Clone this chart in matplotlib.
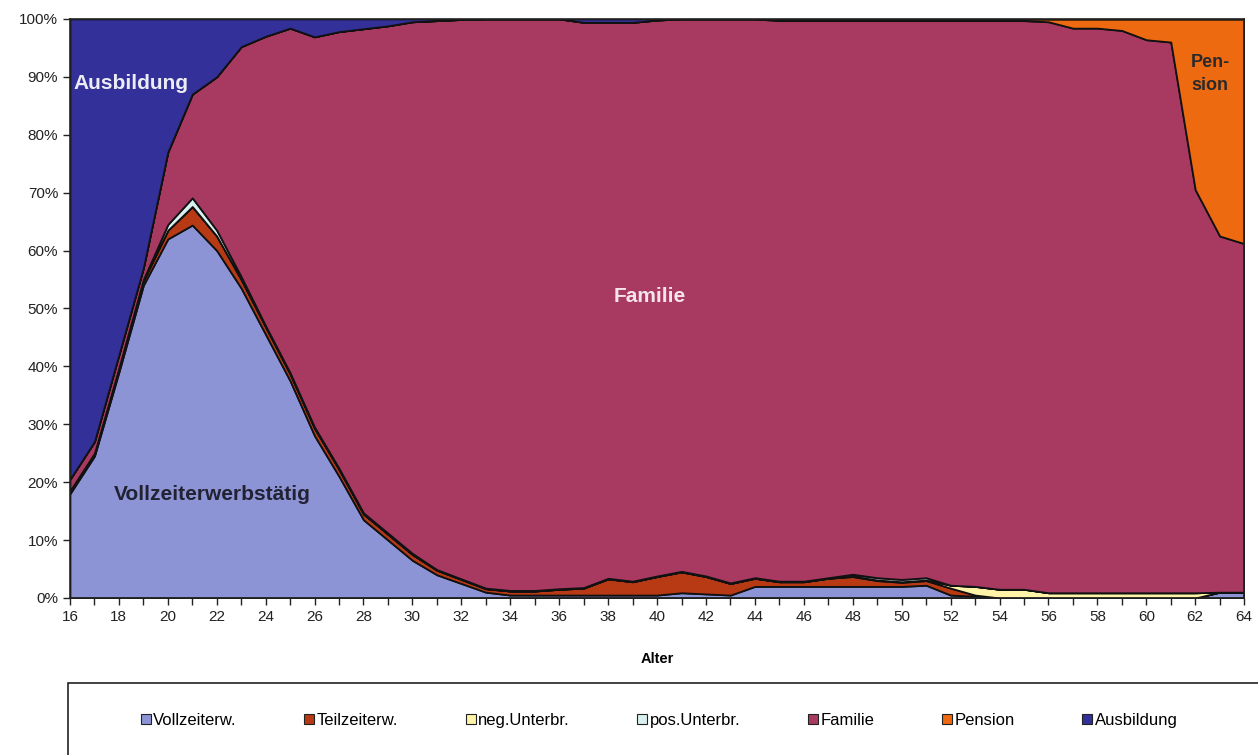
import matplotlib
matplotlib.use("Agg")
import matplotlib.pyplot as plt
from matplotlib.patches import Patch, Rectangle
from matplotlib.ticker import MultipleLocator, FuncFormatter

plt.rcParams['font.family'] = ['Liberation Sans', 'DejaVu Sans']

# Alter 16..64, Anteile in Prozent
ages = list(range(16, 65))

vollzeit = [18, 24.5, 39, 54, 62, 64.4, 60, 53.5, 45.5, 37.5,
            28, 21, 13.5, 10, 6.5, 4, 2.5, 1, 0.5, 0.5,
            0.5, 0.5, 0.5, 0.5, 0.5, 0.9, 0.7, 0.5, 2, 2,
            2, 2, 2, 2, 2, 2.2, 0.5, 0.3, 0, 0,
            0, 0, 0, 0, 0, 0, 0, 1, 1]
teilzeit = [0.3, 0.3, 0.5, 0.8, 1.5, 3.2, 2.5, 1.5, 1.3, 1.2,
            1.3, 1.2, 1.0, 1.0, 1.0, 0.8, 0.7, 0.6, 0.7, 0.7,
            1.0, 1.2, 2.8, 2.3, 3.2, 3.6, 3.0, 2.0, 1.4, 0.8,
            0.8, 1.4, 1.7, 1.0, 0.7, 0.8, 1.2, 0.2, 0, 0,
            0, 0, 0, 0, 0, 0, 0, 0, 0]
neg_unterbr = [0, 0, 0, 0, 0, 0, 0, 0, 0, 0,
               0, 0, 0, 0, 0, 0, 0, 0, 0, 0,
               0, 0, 0, 0, 0, 0, 0, 0, 0, 0,
               0, 0, 0.1, 0.1, 0.1, 0.1, 0.5, 1.5, 1.5, 1.5,
               0.9, 0.9, 0.9, 0.9, 0.9, 0.9, 0.9, 0, 0]
pos_unterbr = [0.2, 0.2, 0.2, 0.2, 1.0, 1.5, 1.0, 0.5, 0.2, 0.2,
               0.2, 0.2, 0.2, 0.2, 0.2, 0.1, 0.1, 0.1, 0.1, 0.1,
               0.1, 0.1, 0.1, 0.1, 0.1, 0.1, 0.1, 0.1, 0.1, 0.1,
               0.1, 0.1, 0.3, 0.4, 0.4, 0.4, 0, 0, 0, 0,
               0, 0, 0, 0, 0, 0, 0, 0, 0]
familie = [2.0, 2.0, 2.3, 2.0, 12.5, 17.9, 26.5, 39.7, 50.0, 59.5,
           67.4, 75.4, 83.6, 87.6, 91.8, 94.8, 96.6, 98.3, 98.7, 98.7,
           98.4, 97.6, 96.0, 96.5, 96.0, 95.4, 96.2, 97.4, 96.5, 96.8,
           96.8, 96.2, 95.6, 96.2, 96.5, 96.2, 97.5, 97.7, 98.2, 98.2,
           98.6, 97.5, 97.5, 97.1, 95.5, 95.1, 69.6, 61.5, 60.2]
pension = [0, 0, 0, 0, 0, 0, 0, 0, 0, 0,
           0, 0, 0, 0, 0, 0, 0, 0, 0, 0,
           0, 0, 0, 0, 0, 0, 0, 0, 0, 0.3,
           0.3, 0.3, 0.3, 0.3, 0.3, 0.3, 0.3, 0.3, 0.3, 0.3,
           0.5, 1.6, 1.6, 2.0, 3.6, 4.0, 29.5, 37.5, 38.8]
ausbildung = [79.5, 73, 58, 43, 23, 13, 10, 4.8, 3, 1.6,
              3.1, 2.2, 1.7, 1.2, 0.5, 0.3, 0.1, 0, 0, 0,
              0, 0.6, 0.6, 0.6, 0.2, 0, 0, 0, 0, 0,
              0, 0, 0, 0, 0, 0, 0, 0, 0, 0,
              0, 0, 0, 0, 0, 0, 0, 0, 0]

labels = ['Vollzeiterw.', 'Teilzeiterw.', 'neg.Unterbr.', 'pos.Unterbr.',
          'Familie', 'Pension', 'Ausbildung']
colours = ['#8C94D6', '#B83A14', '#FFF4A8', '#D8F0F0',
           '#A83A62', '#EE6A10', '#33309A']

fig = plt.figure(figsize=(12.58, 7.55), dpi=100)
ax = fig.add_axes([0.0556, 0.208, 0.9334, 0.767])

ax.stackplot(ages, vollzeit, teilzeit, neg_unterbr, pos_unterbr, familie,
             pension, ausbildung, colors=colours, edgecolor='#111111',
             linewidth=1.3)

ax.set_xlim(16, 64)
ax.set_ylim(0, 100)
ax.xaxis.set_major_locator(MultipleLocator(2))
ax.xaxis.set_minor_locator(MultipleLocator(1))
ax.yaxis.set_major_locator(MultipleLocator(10))
ax.yaxis.set_major_formatter(FuncFormatter(lambda v, _: f'{v:.0f}%'))
ax.tick_params(axis='both', which='major', labelsize=11, length=5,
               width=1, color='#222222', labelcolor='#222222')
ax.tick_params(axis='x', which='minor', length=5, width=1, color='#222222')
for side in ax.spines.values():
    side.set_color('#222222')
    side.set_linewidth(1.2)
ax.set_xlabel('Alter', fontsize=10.5, fontweight='bold', labelpad=20)

# Beschriftungen der Flächen
ax.text(16.15, 88.8, 'Ausbildung', color='#ECECF4', fontsize=15,
        fontweight='bold', va='center', ha='left')
ax.text(21.8, 17.8, 'Vollzeiterwerbstätig', color='#222233', fontsize=15,
        fontweight='bold', va='center', ha='center')
ax.text(39.7, 52, 'Familie', color='#F4E4EC', fontsize=15,
        fontweight='bold', va='center', ha='center')
ax.text(62.6, 90.5, 'Pen-\nsion', color='#2A2A2A', fontsize=13,
        fontweight='bold', va='center', ha='center', linespacing=1.5)

# Legendenrahmen
fig.patches.append(Rectangle((0.054, -0.05), 0.96, 0.1454,
                             transform=fig.transFigure, fill=False,
                             edgecolor='#222222', linewidth=1.2))
handles = [Patch(facecolor=c, edgecolor='#222222', linewidth=0.8)
           for c in colours]
fig.legend(handles, labels, loc='center', bbox_to_anchor=(0.524, 0.046),
           ncol=7, frameon=False, fontsize=12, handlelength=0.6,
           handleheight=0.6, handletextpad=0.15, columnspacing=4.05)

fig.savefig('out.png', dpi=100)
